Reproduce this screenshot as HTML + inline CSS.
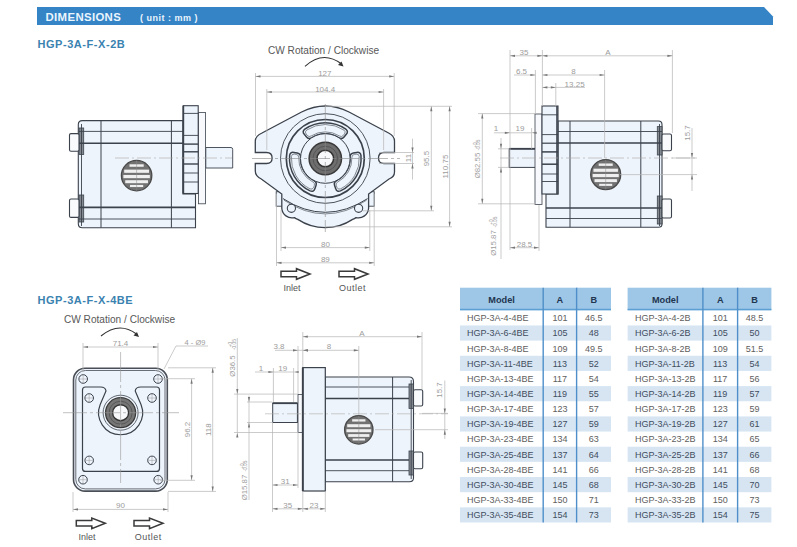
<!DOCTYPE html><html><head><meta charset="utf-8"><style>
html,body{margin:0;padding:0;background:#fff;width:797px;height:547px;overflow:hidden}
svg{display:block;font-family:"Liberation Sans",sans-serif}
</style></head><body>
<svg width="797" height="547" viewBox="0 0 797 547">
<polygon points="37,7 764,7 773,16.5 773,25 37,25" fill="#3584c6"/>
<text x="45.5" y="20.6" font-size="11.4" font-weight="bold" fill="#eaf5fd" letter-spacing="0.35">DIMENSIONS</text>
<text x="140" y="20.5" font-size="9" font-weight="bold" fill="#eaf5fd" letter-spacing="0.5">( unit : mm )</text>
<text x="37.5" y="47.7" font-size="11" font-weight="bold" fill="#3a82b0" letter-spacing="0.55">HGP-3A-F-X-2B</text>
<text x="37.5" y="304" font-size="11" font-weight="bold" fill="#3a82b0" letter-spacing="0.55">HGP-3A-F-X-4BE</text>
<path d="M205.8,147.5 L231,147.5 Q232.7,147.5 232.7,149.5 L232.7,168 L205.8,168 Z" fill="#eef4fb" stroke="#3b424c" stroke-width="0.9"/>
<rect x="198.5" y="112.5" width="7" height="91.3" rx="0" fill="#f7f9fc" stroke="#3b424c" stroke-width="0.8"/>
<path d="M78.3,124.6 Q78.3,120.6 82.3,120.6 L183,120.6 L183,194 L195.5,194 L195.5,227.7 L82.3,227.7 Q78.3,227.7 78.3,223.7 Z" fill="#eef4fb" stroke="#3b424c" stroke-width="1.1"/>
<rect x="183.3" y="105.7" width="14.9" height="87.8" rx="0" fill="#eef4fb" stroke="#3b424c" stroke-width="1.1"/>
<line x1="183.3" y1="105.7" x2="183.3" y2="193.5" stroke="#3b424c" stroke-width="1.8"/>
<line x1="183.3" y1="113.4" x2="198.2" y2="113.4" stroke="#3b424c" stroke-width="0.9"/>
<line x1="183.3" y1="135.4" x2="198.2" y2="135.4" stroke="#3b424c" stroke-width="0.9"/>
<line x1="183.3" y1="144.1" x2="198.2" y2="144.1" stroke="#3b424c" stroke-width="1.4"/>
<line x1="183.3" y1="151.8" x2="198.2" y2="151.8" stroke="#3b424c" stroke-width="1.4"/>
<line x1="183.3" y1="164" x2="198.2" y2="164" stroke="#3b424c" stroke-width="1.4"/>
<line x1="183.3" y1="173" x2="198.2" y2="173" stroke="#3b424c" stroke-width="0.9"/>
<line x1="183.3" y1="182" x2="198.2" y2="182" stroke="#3b424c" stroke-width="0.9"/>
<rect x="79" y="128" width="4.7" height="26.5" fill="#858a91" stroke="#3b424c" stroke-width="0.8"/>
<rect x="79" y="195" width="4.7" height="27" fill="#858a91" stroke="#3b424c" stroke-width="0.8"/>
<line x1="81.5" y1="124" x2="81.5" y2="226" stroke="#3b424c" stroke-width="0.9"/>
<line x1="101" y1="120.6" x2="101" y2="227.7" stroke="#3b424c" stroke-width="1"/>
<line x1="171.4" y1="120.6" x2="171.4" y2="227.7" stroke="#3b424c" stroke-width="1"/>
<line x1="79" y1="131.4" x2="183" y2="131.4" stroke="#3b424c" stroke-width="0.9"/>
<line x1="79" y1="143.2" x2="183" y2="143.2" stroke="#3b424c" stroke-width="1.6"/>
<line x1="79" y1="207.4" x2="195.5" y2="207.4" stroke="#3b424c" stroke-width="1.6"/>
<line x1="79" y1="219" x2="195.5" y2="219" stroke="#3b424c" stroke-width="0.9"/>
<rect x="69.5" y="133.6" width="9.5" height="17.6" rx="1.5" fill="#f9fafb" stroke="#3b424c" stroke-width="1.1"/>
<rect x="69.5" y="199" width="9.5" height="18.4" rx="1.5" fill="#f9fafb" stroke="#3b424c" stroke-width="1.1"/>
<line x1="115" y1="158" x2="232" y2="158" stroke="#aaa" stroke-width="0.6" stroke-dasharray="14,3,2,3"/>
<circle cx="136.6" cy="175.6" r="15.2" fill="#727272" stroke="#4a4a4a" stroke-width="1.3"/>
<rect x="129.49" y="164.31" width="14.22" height="2.46" fill="#efefef"/>
<rect x="124.19" y="169.61" width="24.82" height="3.21" fill="#efefef"/>
<rect x="123.36" y="174.96" width="26.49" height="3.21" fill="#efefef"/>
<rect x="125.25" y="180.20" width="22.71" height="3.00" fill="#efefef"/>
<rect x="129.99" y="184.91" width="13.21" height="2.14" fill="#efefef"/>
<line x1="136.6" y1="160.4" x2="136.6" y2="190.79999999999998" stroke="#8a8a8a" stroke-width="0.5"/>
<rect x="276.2" y="191.7" width="98" height="14.5" rx="0" fill="#eef4fb" stroke="#3b424c" stroke-width="0.9"/>
<path d="M262,133 L301.6,112 Q325.3,100 349,112 L388.6,133 Q394.5,136 394.5,141 L394.5,152.5 L384,152.5 Q378.5,152.5 378.5,158 Q378.5,163.5 384,163.5 L394.5,163.5 L394.5,172 Q394.5,177 389,179 L368.6,194
 L368.6,208.3 A10.2,10.2 0 0 1 356,217.6 Q354.6,218.6 352.6,219.4 A49.5,49.5 0 0 1 297.8,219.4 Q295.8,218.6 294.4,217.6 A10.2,10.2 0 0 1 281.8,208.3 L281.8,194 L261.3,179 Q255.3,176 255.3,171 L255.3,163.5 L266.6,163.5 Q272.1,163.5 272.1,158 Q272.1,152.5 266.6,152.5 L255.3,152.5 L255.3,141 Q255.3,136 262,133 Z" fill="#eef4fb" stroke="#3b424c" stroke-width="1.3"/>
<path d="M283,198.6 Q325.3,226 367.6,198.6" fill="none" stroke="#3b424c" stroke-width="1"/>
<path d="M284,200.2 Q325.3,227.6 366.6,200.2" fill="none" stroke="#3b424c" stroke-width="0.6"/>
<circle cx="291.4" cy="208.3" r="4.1" fill="#eef4fb" stroke="#3b424c" stroke-width="1.1"/>
<circle cx="358.6" cy="208.3" r="4.1" fill="#eef4fb" stroke="#3b424c" stroke-width="1.1"/>
<circle cx="325.3" cy="158.5" r="44.8" fill="#eef4fb" stroke="#3b424c" stroke-width="0.9"/>
<circle cx="325.3" cy="158.5" r="39" fill="#eef4fb" stroke="#3b424c" stroke-width="1.7"/>
<path d="M304.81,129.15 A35.8,35.8 0 0 1 345.79,129.15 Q348.79,131.48 346.29,134.35 L344.06,136.92 Q341.57,139.78 338.52,137.52 A24.8,24.8 0 0 0 312.08,137.52 Q309.03,139.78 306.54,136.92 L304.31,134.35 Q301.81,131.48 304.81,129.15 Z" fill="#eef4fb" stroke="#3b424c" stroke-width="1.5"/>
<path d="M306.64,130.08 A34,34 0 0 1 343.96,130.08 Q346.23,131.71 344.51,133.91 L343.40,135.33 Q341.68,137.54 339.38,135.93 A26.6,26.6 0 0 0 311.22,135.93 Q308.92,137.54 307.20,135.33 L306.09,133.91 Q304.37,131.71 306.64,130.08 Z" fill="none" stroke="#3b424c" stroke-width="0.6"/>
<path d="M360.97,155.43 A35.8,35.8 0 0 1 340.48,190.92 Q336.96,192.35 335.72,188.76 L334.61,185.54 Q333.37,181.95 336.86,180.44 A24.8,24.8 0 0 0 350.08,157.54 Q349.64,153.77 353.37,153.04 L356.71,152.39 Q360.44,151.67 360.97,155.43 Z" fill="#eef4fb" stroke="#3b424c" stroke-width="1.5"/>
<path d="M359.24,156.55 A34,34 0 0 1 340.59,188.87 Q338.04,190.02 336.99,187.43 L336.31,185.76 Q335.26,183.16 337.80,181.98 A26.6,26.6 0 0 0 351.88,157.59 Q351.64,154.80 354.41,154.41 L356.20,154.16 Q358.97,153.77 359.24,156.55 Z" fill="none" stroke="#3b424c" stroke-width="0.6"/>
<path d="M310.12,190.92 A35.8,35.8 0 0 1 289.63,155.43 Q290.16,151.67 293.89,152.39 L297.23,153.04 Q300.96,153.77 300.52,157.54 A24.8,24.8 0 0 0 313.74,180.44 Q317.23,181.95 315.99,185.54 L314.88,188.76 Q313.64,192.35 310.12,190.92 Z" fill="#eef4fb" stroke="#3b424c" stroke-width="1.5"/>
<path d="M310.01,188.87 A34,34 0 0 1 291.36,156.55 Q291.63,153.77 294.40,154.16 L296.19,154.41 Q298.96,154.80 298.72,157.59 A26.6,26.6 0 0 0 312.80,181.98 Q315.34,183.16 314.29,185.76 L313.61,187.43 Q312.56,190.02 310.01,188.87 Z" fill="none" stroke="#3b424c" stroke-width="0.6"/>
<circle cx="325.3" cy="158.5" r="24.8" fill="#eef4fb" stroke="#3b424c" stroke-width="1"/>
<circle cx="325.3" cy="158.5" r="16.2" fill="#6e6e6e" stroke="#3a3a3a" stroke-width="1.5"/>
<circle cx="325.3" cy="158.5" r="12.3" fill="none" stroke="#555" stroke-width="0.9"/>
<circle cx="325.3" cy="158.5" r="8.3" fill="#f8f9fb" stroke="#333" stroke-width="1.5"/>
<line x1="325.3" y1="104" x2="325.3" y2="232" stroke="#888" stroke-width="0.6" stroke-dasharray="20,3,3,3"/>
<line x1="252" y1="158.5" x2="400" y2="158.5" stroke="#888" stroke-width="0.6" stroke-dasharray="20,3,3,3"/>
<line x1="255.5" y1="73" x2="255.5" y2="136" stroke="#b4b4b4" stroke-width="0.7"/>
<line x1="394.2" y1="73" x2="394.2" y2="136" stroke="#b4b4b4" stroke-width="0.7"/>
<line x1="255.5" y1="76.4" x2="394.2" y2="76.4" stroke="#b4b4b4" stroke-width="0.7"/>
<path d="M255.5,76.4 l5,-1.1 l0,2.2 z" fill="#777"/>
<path d="M394.2,76.4 l-5,-1.1 l0,2.2 z" fill="#777"/>
<text x="324.85" y="76.2" font-size="8" fill="#9c9c9c" text-anchor="middle">127</text>
<line x1="266.8" y1="89" x2="266.8" y2="150" stroke="#b4b4b4" stroke-width="0.7"/>
<line x1="383.6" y1="89" x2="383.6" y2="150" stroke="#b4b4b4" stroke-width="0.7"/>
<line x1="266.8" y1="92" x2="383.6" y2="92" stroke="#b4b4b4" stroke-width="0.7"/>
<path d="M266.8,92 l5,-1.1 l0,2.2 z" fill="#777"/>
<path d="M383.6,92 l-5,-1.1 l0,2.2 z" fill="#777"/>
<text x="325.20000000000005" y="92.2" font-size="8" fill="#9c9c9c" text-anchor="middle">104.4</text>
<text x="268" y="54" font-size="10.1" fill="#585858">CW Rotation / Clockwise</text>
<path d="M305,66.4 Q323,50 341.5,64" fill="none" stroke="#333" stroke-width="1.1"/>
<path d="M343.5,66.5 l-5.5,-1.5 l3.5,-3.5 z" fill="#333"/>
<line x1="276.5" y1="194" x2="276.5" y2="266" stroke="#b4b4b4" stroke-width="0.7"/>
<line x1="374.2" y1="194" x2="374.2" y2="266" stroke="#b4b4b4" stroke-width="0.7"/>
<line x1="281" y1="210" x2="281" y2="251" stroke="#b4b4b4" stroke-width="0.7"/>
<line x1="369.8" y1="210" x2="369.8" y2="251" stroke="#b4b4b4" stroke-width="0.7"/>
<line x1="281" y1="247.6" x2="369.8" y2="247.6" stroke="#b4b4b4" stroke-width="0.7"/>
<path d="M281,247.6 l5,-1.1 l0,2.2 z" fill="#777"/>
<path d="M369.8,247.6 l-5,-1.1 l0,2.2 z" fill="#777"/>
<text x="325.4" y="246.7" font-size="8" fill="#9c9c9c" text-anchor="middle">80</text>
<line x1="276.5" y1="262.8" x2="374.2" y2="262.8" stroke="#b4b4b4" stroke-width="0.7"/>
<path d="M276.5,262.8 l5,-1.1 l0,2.2 z" fill="#777"/>
<path d="M374.2,262.8 l-5,-1.1 l0,2.2 z" fill="#777"/>
<text x="325.35" y="261.7" font-size="8" fill="#9c9c9c" text-anchor="middle">89</text>
<line x1="325" y1="106.3" x2="452" y2="106.3" stroke="#b4b4b4" stroke-width="0.7"/>
<line x1="363" y1="210.8" x2="434" y2="210.8" stroke="#b4b4b4" stroke-width="0.7"/>
<line x1="325" y1="226.8" x2="452" y2="226.8" stroke="#b4b4b4" stroke-width="0.7"/>
<line x1="431.3" y1="106.3" x2="431.3" y2="210.8" stroke="#b4b4b4" stroke-width="0.7"/>
<path d="M431.3,106.3 l-1.1,5 l2.2,0 z" fill="#777"/>
<path d="M431.3,210.8 l-1.1,-5 l2.2,0 z" fill="#777"/>
<text x="429.5" y="158.55" font-size="8" fill="#9c9c9c" text-anchor="middle" transform="rotate(-90 429.5 158.55)">95.5</text>
<line x1="449.6" y1="106.3" x2="449.6" y2="226.8" stroke="#b4b4b4" stroke-width="0.7"/>
<path d="M449.6,106.3 l-1.1,5 l2.2,0 z" fill="#777"/>
<path d="M449.6,226.8 l-1.1,-5 l2.2,0 z" fill="#777"/>
<text x="447.8" y="166.55" font-size="8" fill="#9c9c9c" text-anchor="middle" transform="rotate(-90 447.8 166.55)">110.75</text>
<line x1="379" y1="152.5" x2="414" y2="152.5" stroke="#b4b4b4" stroke-width="0.7"/>
<line x1="379" y1="163.5" x2="414" y2="163.5" stroke="#b4b4b4" stroke-width="0.7"/>
<line x1="412.5" y1="138.7" x2="412.5" y2="179.6" stroke="#b4b4b4" stroke-width="0.7"/>
<path d="M412.5,152.5 l-1.1,-5 l2.2,0 z" fill="#777"/>
<path d="M412.5,163.5 l-1.1,5 l2.2,0 z" fill="#777"/>
<text x="410.5" y="158" font-size="8" fill="#9c9c9c" text-anchor="middle" transform="rotate(-90 410.5 158)">11</text>
<path d="M281,271.2 L296.5,271.2 L296.5,268.7 L310,274 L296.5,279.3 L296.5,276.8 L281,276.8 Z" fill="#fff" stroke="#3a3a3a" stroke-width="1.5" stroke-linejoin="miter"/>
<path d="M339,271.2 L354.5,271.2 L354.5,268.7 L368,274 L354.5,279.3 L354.5,276.8 L339,276.8 Z" fill="#fff" stroke="#3a3a3a" stroke-width="1.5" stroke-linejoin="miter"/>
<text x="283.5" y="290.5" font-size="9" fill="#555">Inlet</text>
<text x="339" y="290.5" font-size="9" fill="#555" letter-spacing="0.5">Outlet</text>
<rect x="509.2" y="148.8" width="27" height="18.6" rx="0" fill="#eef4fb" stroke="#3b424c" stroke-width="1"/>
<line x1="509.2" y1="148.8" x2="536" y2="148.8" stroke="#3b424c" stroke-width="1.8"/>
<rect x="535" y="114" width="7" height="90.5" rx="0" fill="#f7f9fc" stroke="#3b424c" stroke-width="0.8"/>
<path d="M662,124.5 Q662,121 658.5,121 L558,121 L558,194 L546,194 L546,227.3 L658.5,227.3 Q662,227.3 662,224 Z" fill="#eef4fb" stroke="#3b424c" stroke-width="1.1"/>
<rect x="542" y="106" width="16" height="88" rx="0" fill="#eef4fb" stroke="#3b424c" stroke-width="1.1"/>
<line x1="542" y1="114.8" x2="558" y2="114.8" stroke="#3b424c" stroke-width="0.9"/>
<line x1="542" y1="134.6" x2="558" y2="134.6" stroke="#3b424c" stroke-width="0.9"/>
<line x1="542" y1="143.2" x2="558" y2="143.2" stroke="#3b424c" stroke-width="1.2"/>
<line x1="542" y1="151.9" x2="558" y2="151.9" stroke="#3b424c" stroke-width="1.5"/>
<line x1="542" y1="164.2" x2="558" y2="164.2" stroke="#3b424c" stroke-width="1.5"/>
<line x1="542" y1="174" x2="558" y2="174" stroke="#3b424c" stroke-width="0.9"/>
<line x1="542" y1="181.5" x2="558" y2="181.5" stroke="#3b424c" stroke-width="0.9"/>
<line x1="557" y1="106" x2="557" y2="194" stroke="#3b424c" stroke-width="1.6"/>
<rect x="657.3" y="126.6" width="4.7" height="28.4" fill="#858a91" stroke="#3b424c" stroke-width="0.8"/>
<rect x="657.3" y="196" width="4.7" height="28" fill="#858a91" stroke="#3b424c" stroke-width="0.8"/>
<line x1="659.5" y1="124" x2="659.5" y2="226" stroke="#3b424c" stroke-width="0.9"/>
<line x1="570" y1="121" x2="570" y2="227.3" stroke="#3b424c" stroke-width="1"/>
<line x1="640.8" y1="121" x2="640.8" y2="227.3" stroke="#3b424c" stroke-width="1"/>
<line x1="558" y1="131.5" x2="662" y2="131.5" stroke="#3b424c" stroke-width="0.9"/>
<line x1="558" y1="143" x2="662" y2="143" stroke="#3b424c" stroke-width="1.6"/>
<line x1="546" y1="208" x2="662" y2="208" stroke="#3b424c" stroke-width="1.6"/>
<line x1="546" y1="218.5" x2="662" y2="218.5" stroke="#3b424c" stroke-width="0.9"/>
<rect x="662" y="134" width="9.5" height="16.7" rx="1.5" fill="#f9fafb" stroke="#3b424c" stroke-width="1.1"/>
<rect x="662" y="199" width="9.5" height="19" rx="1.5" fill="#f9fafb" stroke="#3b424c" stroke-width="1.1"/>
<line x1="500" y1="158" x2="697" y2="158" stroke="#aaa" stroke-width="0.6" stroke-dasharray="14,3,2,3"/>
<circle cx="605.7" cy="174.6" r="15" fill="#727272" stroke="#4a4a4a" stroke-width="1.3"/>
<rect x="598.68" y="163.46" width="14.04" height="2.43" fill="#efefef"/>
<rect x="593.45" y="168.68" width="24.50" height="3.17" fill="#efefef"/>
<rect x="592.63" y="173.97" width="26.14" height="3.17" fill="#efefef"/>
<rect x="594.50" y="179.14" width="22.41" height="2.96" fill="#efefef"/>
<rect x="599.18" y="183.79" width="13.04" height="2.11" fill="#efefef"/>
<line x1="605.7" y1="159.6" x2="605.7" y2="189.6" stroke="#8a8a8a" stroke-width="0.5"/>
<line x1="510" y1="50" x2="510" y2="250" stroke="#b4b4b4" stroke-width="0.7"/>
<line x1="542.4" y1="50" x2="542.4" y2="106" stroke="#b4b4b4" stroke-width="0.7"/>
<line x1="672.4" y1="50" x2="672.4" y2="133" stroke="#b4b4b4" stroke-width="0.7"/>
<line x1="510" y1="55.8" x2="542.4" y2="55.8" stroke="#b4b4b4" stroke-width="0.7"/>
<path d="M510,55.8 l5,-1.1 l0,2.2 z" fill="#777"/>
<path d="M542.4,55.8 l-5,-1.1 l0,2.2 z" fill="#777"/>
<text x="524" y="54.7" font-size="8" fill="#9c9c9c" text-anchor="middle">35</text>
<line x1="542.4" y1="55.8" x2="672.4" y2="55.8" stroke="#b4b4b4" stroke-width="0.7"/>
<path d="M542.4,55.8 l5,-1.1 l0,2.2 z" fill="#777"/>
<path d="M672.4,55.8 l-5,-1.1 l0,2.2 z" fill="#777"/>
<text x="608" y="54.7" font-size="8" fill="#9c9c9c" text-anchor="middle">A</text>
<line x1="535.4" y1="70" x2="535.4" y2="114" stroke="#b4b4b4" stroke-width="0.7"/>
<line x1="604.6" y1="70" x2="604.6" y2="158" stroke="#b4b4b4" stroke-width="0.7"/>
<line x1="514" y1="75" x2="535.4" y2="75" stroke="#b4b4b4" stroke-width="0.7"/>
<path d="M535.4,75 l-5,-1.1 l0,2.2 z" fill="#777"/>
<text x="521.5" y="74.2" font-size="8" fill="#9c9c9c" text-anchor="middle">6.5</text>
<line x1="542.4" y1="75" x2="604.6" y2="75" stroke="#b4b4b4" stroke-width="0.7"/>
<path d="M542.4,75 l5,-1.1 l0,2.2 z" fill="#777"/>
<path d="M604.6,75 l-5,-1.1 l0,2.2 z" fill="#777"/>
<text x="573.5" y="74.2" font-size="8" fill="#9c9c9c" text-anchor="middle">8</text>
<line x1="555.8" y1="83" x2="555.8" y2="106" stroke="#b4b4b4" stroke-width="0.7"/>
<line x1="542.4" y1="87.4" x2="585" y2="87.4" stroke="#b4b4b4" stroke-width="0.7"/>
<path d="M542.4,87.4 l5,-1.1 l0,2.2 z" fill="#777"/>
<path d="M555.8,87.4 l-5,-1.1 l0,2.2 z" fill="#777"/>
<text x="574.6" y="86.7" font-size="8" fill="#9c9c9c" text-anchor="middle">13.25</text>
<line x1="494" y1="132.8" x2="531.6" y2="132.8" stroke="#b4b4b4" stroke-width="0.7"/>
<path d="M509.8,132.8 l-5,-1.1 l0,2.2 z" fill="#777"/>
<path d="M531.6,132.8 l5,-1.1 l0,2.2 z" fill="#777"/>
<line x1="531.6" y1="128" x2="531.6" y2="148.8" stroke="#b4b4b4" stroke-width="0.7"/>
<text x="520" y="131.2" font-size="8" fill="#9c9c9c" text-anchor="middle">19</text>
<text x="496" y="131.2" font-size="8" fill="#9c9c9c" text-anchor="middle">1</text>
<line x1="478" y1="113.6" x2="536" y2="113.6" stroke="#b4b4b4" stroke-width="0.7"/>
<line x1="478" y1="203.8" x2="536" y2="203.8" stroke="#b4b4b4" stroke-width="0.7"/>
<line x1="482.3" y1="113.6" x2="482.3" y2="203.8" stroke="#b4b4b4" stroke-width="0.7"/>
<path d="M482.3,113.6 l-1.1,5 l2.2,0 z" fill="#777"/>
<path d="M482.3,203.8 l-1.1,-5 l2.2,0 z" fill="#777"/>
<text x="479.8" y="165.5" font-size="7.8" fill="#9c9c9c" text-anchor="middle" transform="rotate(-90 479.8 165.5)">Ø82.55</text>
<text x="476.8" y="145" font-size="4.8" fill="#9c9c9c" text-anchor="middle" transform="rotate(-90 476.8 145)">+0</text>
<text x="480.4" y="145" font-size="4.8" fill="#9c9c9c" text-anchor="middle" transform="rotate(-90 480.4 145)">-0.05</text>
<line x1="501" y1="138" x2="501" y2="259" stroke="#b4b4b4" stroke-width="0.7"/>
<line x1="498" y1="148.8" x2="509" y2="148.8" stroke="#b4b4b4" stroke-width="0.7"/>
<line x1="498" y1="167.4" x2="509" y2="167.4" stroke="#b4b4b4" stroke-width="0.7"/>
<path d="M501,148.8 l-1.1,-5 l2.2,0 z" fill="#777"/>
<path d="M501,167.4 l-1.1,5 l2.2,0 z" fill="#777"/>
<text x="496" y="243" font-size="7.8" fill="#9c9c9c" text-anchor="middle" transform="rotate(-90 496 243)">Ø15.87</text>
<text x="493" y="222" font-size="4.8" fill="#9c9c9c" text-anchor="middle" transform="rotate(-90 493 222)">+0</text>
<text x="496.6" y="222" font-size="4.8" fill="#9c9c9c" text-anchor="middle" transform="rotate(-90 496.6 222)">-0.05</text>
<line x1="539" y1="205" x2="539" y2="251" stroke="#b4b4b4" stroke-width="0.7"/>
<line x1="510" y1="247.7" x2="539" y2="247.7" stroke="#b4b4b4" stroke-width="0.7"/>
<path d="M510,247.7 l5,-1.1 l0,2.2 z" fill="#777"/>
<path d="M539,247.7 l-5,-1.1 l0,2.2 z" fill="#777"/>
<text x="524.5" y="246.7" font-size="8" fill="#9c9c9c" text-anchor="middle">28.5</text>
<line x1="672" y1="158" x2="697" y2="158" stroke="#b4b4b4" stroke-width="0.7"/>
<line x1="620" y1="174.6" x2="697" y2="174.6" stroke="#b4b4b4" stroke-width="0.7"/>
<line x1="692" y1="128" x2="692" y2="191" stroke="#b4b4b4" stroke-width="0.7"/>
<path d="M692,158 l-1.1,-5 l2.2,0 z" fill="#777"/>
<path d="M692,174.6 l-1.1,5 l2.2,0 z" fill="#777"/>
<text x="689.5" y="133" font-size="8" fill="#9c9c9c" text-anchor="middle" transform="rotate(-90 689.5 133)">15.7</text>
<text x="64" y="322.5" font-size="10.1" fill="#585858">CW Rotation / Clockwise</text>
<path d="M101,336 Q119,321 136.5,334" fill="none" stroke="#333" stroke-width="1.1"/>
<path d="M139,337 l-5.5,-1.5 l3.5,-3.5 z" fill="#333"/>
<rect x="73.5" y="368.3" width="93.8" height="122.8" rx="11.5" fill="#eef4fb" stroke="#4a4f57" stroke-width="1.6"/>
<rect x="75.8" y="370.5" width="89.2" height="118.4" rx="9.5" fill="none" stroke="#5a5f66" stroke-width="0.9"/>
<path d="M82.5,390 Q82.5,387 85.5,387 L100.5,387 Q105.5,387 106,391 L100.2,404.5 A22,22 0 1 0 141.0,404.5 L135.2,391 Q135.7,387 140.7,387 L156.5,387 Q159.5,387 159.5,390 L159.5,468.4 Q159.5,471.4 156.5,471.4 L85.5,471.4 Q82.5,471.4 82.5,468.4 Z" fill="#eef4fb" stroke="#3b424c" stroke-width="1.2"/>
<circle cx="83.2" cy="379" r="4.3" fill="#eef4fb" stroke="#3b424c" stroke-width="1"/>
<line x1="79.2" y1="379" x2="87.2" y2="379" stroke="#999" stroke-width="0.5"/>
<line x1="83.2" y1="375" x2="83.2" y2="383" stroke="#999" stroke-width="0.5"/>
<circle cx="158" cy="379" r="4.3" fill="#eef4fb" stroke="#3b424c" stroke-width="1"/>
<line x1="154" y1="379" x2="162" y2="379" stroke="#999" stroke-width="0.5"/>
<line x1="158" y1="375" x2="158" y2="383" stroke="#999" stroke-width="0.5"/>
<circle cx="83" cy="479.7" r="4.3" fill="#eef4fb" stroke="#3b424c" stroke-width="1"/>
<line x1="79" y1="479.7" x2="87" y2="479.7" stroke="#999" stroke-width="0.5"/>
<line x1="83" y1="475.7" x2="83" y2="483.7" stroke="#999" stroke-width="0.5"/>
<circle cx="158.2" cy="479.7" r="4.3" fill="#eef4fb" stroke="#3b424c" stroke-width="1"/>
<line x1="154.2" y1="479.7" x2="162.2" y2="479.7" stroke="#999" stroke-width="0.5"/>
<line x1="158.2" y1="475.7" x2="158.2" y2="483.7" stroke="#999" stroke-width="0.5"/>
<circle cx="89.2" cy="398" r="4.3" fill="#eef4fb" stroke="#3b424c" stroke-width="1"/>
<line x1="85.2" y1="398" x2="93.2" y2="398" stroke="#999" stroke-width="0.5"/>
<line x1="89.2" y1="394" x2="89.2" y2="402" stroke="#999" stroke-width="0.5"/>
<circle cx="152" cy="398" r="4.3" fill="#eef4fb" stroke="#3b424c" stroke-width="1"/>
<line x1="148" y1="398" x2="156" y2="398" stroke="#999" stroke-width="0.5"/>
<line x1="152" y1="394" x2="152" y2="402" stroke="#999" stroke-width="0.5"/>
<circle cx="89.2" cy="460.4" r="4.3" fill="#eef4fb" stroke="#3b424c" stroke-width="1"/>
<line x1="85.2" y1="460.4" x2="93.2" y2="460.4" stroke="#999" stroke-width="0.5"/>
<line x1="89.2" y1="456.4" x2="89.2" y2="464.4" stroke="#999" stroke-width="0.5"/>
<circle cx="152" cy="460.4" r="4.3" fill="#eef4fb" stroke="#3b424c" stroke-width="1"/>
<line x1="148" y1="460.4" x2="156" y2="460.4" stroke="#999" stroke-width="0.5"/>
<line x1="152" y1="456.4" x2="152" y2="464.4" stroke="#999" stroke-width="0.5"/>
<circle cx="120.6" cy="412.7" r="17.5" fill="#eef4fb" stroke="#3b424c" stroke-width="0.8"/>
<circle cx="120.6" cy="412.7" r="15" fill="#767676" stroke="#3a3a3a" stroke-width="1.3"/>
<circle cx="120.6" cy="412.7" r="11.5" fill="none" stroke="#555" stroke-width="0.9"/>
<circle cx="120.6" cy="412.7" r="8" fill="#f8f9fb" stroke="#333" stroke-width="1.4"/>
<line x1="63" y1="412.7" x2="179" y2="412.7" stroke="#999" stroke-width="0.6" stroke-dasharray="24,3,3,3"/>
<line x1="120.6" y1="352" x2="120.6" y2="483" stroke="#999" stroke-width="0.6" stroke-dasharray="30,3,3,3"/>
<line x1="83" y1="343" x2="83" y2="372" stroke="#b4b4b4" stroke-width="0.7"/>
<line x1="158" y1="343" x2="158" y2="372" stroke="#b4b4b4" stroke-width="0.7"/>
<line x1="83" y1="347" x2="158" y2="347" stroke="#b4b4b4" stroke-width="0.7"/>
<path d="M83,347 l5,-1.1 l0,2.2 z" fill="#777"/>
<path d="M158,347 l-5,-1.1 l0,2.2 z" fill="#777"/>
<text x="120.5" y="346.2" font-size="8" fill="#9c9c9c" text-anchor="middle">71.4</text>
<polyline points="164,369 176,346 208,346" fill="none" stroke="#b4b4b4" stroke-width="0.7"/>
<text x="195" y="345.2" font-size="7.5" fill="#9c9c9c" text-anchor="middle">4 - Ø9</text>
<line x1="160" y1="378.7" x2="195" y2="378.7" stroke="#b4b4b4" stroke-width="0.7"/>
<line x1="160" y1="480.3" x2="195" y2="480.3" stroke="#b4b4b4" stroke-width="0.7"/>
<line x1="191.6" y1="378.7" x2="191.6" y2="480.3" stroke="#b4b4b4" stroke-width="0.7"/>
<path d="M191.6,378.7 l-1.1,5 l2.2,0 z" fill="#777"/>
<path d="M191.6,480.3 l-1.1,-5 l2.2,0 z" fill="#777"/>
<text x="189.6" y="429.5" font-size="8" fill="#9c9c9c" text-anchor="middle" transform="rotate(-90 189.6 429.5)">96.2</text>
<line x1="168" y1="367.8" x2="216" y2="367.8" stroke="#b4b4b4" stroke-width="0.7"/>
<line x1="168" y1="491.4" x2="216" y2="491.4" stroke="#b4b4b4" stroke-width="0.7"/>
<line x1="212.7" y1="367.8" x2="212.7" y2="491.4" stroke="#b4b4b4" stroke-width="0.7"/>
<path d="M212.7,367.8 l-1.1,5 l2.2,0 z" fill="#777"/>
<path d="M212.7,491.4 l-1.1,-5 l2.2,0 z" fill="#777"/>
<text x="210.7" y="429.6" font-size="8" fill="#9c9c9c" text-anchor="middle" transform="rotate(-90 210.7 429.6)">118</text>
<line x1="73" y1="492" x2="73" y2="512" stroke="#b4b4b4" stroke-width="0.7"/>
<line x1="168" y1="492" x2="168" y2="512" stroke="#b4b4b4" stroke-width="0.7"/>
<line x1="73" y1="509.4" x2="168" y2="509.4" stroke="#b4b4b4" stroke-width="0.7"/>
<path d="M73,509.4 l5,-1.1 l0,2.2 z" fill="#777"/>
<path d="M168,509.4 l-5,-1.1 l0,2.2 z" fill="#777"/>
<text x="120.5" y="508.2" font-size="8" fill="#9c9c9c" text-anchor="middle">90</text>
<path d="M76.3,520.5 L91.8,520.5 L91.8,518.0 L105.3,523.3 L91.8,528.5999999999999 L91.8,526.0999999999999 L76.3,526.0999999999999 Z" fill="#fff" stroke="#3a3a3a" stroke-width="1.5" stroke-linejoin="miter"/>
<path d="M134,520.5 L149.5,520.5 L149.5,518.0 L163,523.3 L149.5,528.5999999999999 L149.5,526.0999999999999 L134,526.0999999999999 Z" fill="#fff" stroke="#3a3a3a" stroke-width="1.5" stroke-linejoin="miter"/>
<text x="78.6" y="539.5" font-size="9" fill="#555">Inlet</text>
<text x="134.7" y="539.5" font-size="9" fill="#555" letter-spacing="0.5">Outlet</text>
<rect x="272.7" y="403.2" width="24.7" height="19.3" rx="0" fill="#eef4fb" stroke="#3b424c" stroke-width="1"/>
<line x1="272.7" y1="403.2" x2="297.4" y2="403.2" stroke="#3b424c" stroke-width="1.8"/>
<rect x="298" y="394.5" width="5" height="38" rx="0" fill="#f7f9fc" stroke="#3b424c" stroke-width="0.8"/>
<path d="M409,377 Q413.5,377 413.5,381.5 L413.5,478 Q413.5,481.7 409.5,481.7 L325.3,481.7 L325.3,377 Z" fill="#eef4fb" stroke="#3b424c" stroke-width="1.1"/>
<rect x="302.8" y="367.6" width="22.5" height="123.4" rx="0" fill="#eef4fb" stroke="#3b424c" stroke-width="1.2"/>
<line x1="302.8" y1="367.6" x2="302.8" y2="491" stroke="#3b424c" stroke-width="1.9"/>
<rect x="409" y="384" width="4.5" height="24.4" fill="#858a91" stroke="#3b424c" stroke-width="0.8"/>
<rect x="409" y="451" width="4.5" height="24" fill="#858a91" stroke="#3b424c" stroke-width="0.8"/>
<line x1="411.2" y1="380" x2="411.2" y2="479" stroke="#3b424c" stroke-width="0.9"/>
<line x1="392.6" y1="377" x2="392.6" y2="481.7" stroke="#3b424c" stroke-width="1"/>
<line x1="325.3" y1="387" x2="409" y2="387" stroke="#3b424c" stroke-width="0.9"/>
<line x1="325.3" y1="398.5" x2="409" y2="398.5" stroke="#3b424c" stroke-width="1.6"/>
<line x1="325.3" y1="460" x2="409" y2="460" stroke="#3b424c" stroke-width="1.6"/>
<line x1="325.3" y1="470.7" x2="409" y2="470.7" stroke="#3b424c" stroke-width="0.9"/>
<rect x="413.5" y="389.7" width="9.2" height="16.3" rx="1.5" fill="#f9fafb" stroke="#3b424c" stroke-width="1.1"/>
<rect x="413.5" y="452" width="9.2" height="16.7" rx="1.5" fill="#f9fafb" stroke="#3b424c" stroke-width="1.1"/>
<line x1="265" y1="413.8" x2="448" y2="413.8" stroke="#aaa" stroke-width="0.6" stroke-dasharray="14,3,2,3"/>
<circle cx="358.8" cy="429.8" r="14.2" fill="#727272" stroke="#4a4a4a" stroke-width="1.3"/>
<rect x="352.16" y="419.25" width="13.29" height="2.30" fill="#efefef"/>
<rect x="347.20" y="424.20" width="23.19" height="3.00" fill="#efefef"/>
<rect x="346.43" y="429.20" width="24.74" height="3.00" fill="#efefef"/>
<rect x="348.19" y="434.10" width="21.21" height="2.80" fill="#efefef"/>
<rect x="352.63" y="438.50" width="12.34" height="2.00" fill="#efefef"/>
<line x1="358.8" y1="415.6" x2="358.8" y2="444.0" stroke="#8a8a8a" stroke-width="0.5"/>
<line x1="302.8" y1="332" x2="302.8" y2="367" stroke="#b4b4b4" stroke-width="0.7"/>
<line x1="422" y1="332" x2="422" y2="389" stroke="#b4b4b4" stroke-width="0.7"/>
<line x1="302.8" y1="336.7" x2="422" y2="336.7" stroke="#b4b4b4" stroke-width="0.7"/>
<path d="M302.8,336.7 l5,-1.1 l0,2.2 z" fill="#777"/>
<path d="M422,336.7 l-5,-1.1 l0,2.2 z" fill="#777"/>
<text x="362" y="335.7" font-size="8" fill="#9c9c9c" text-anchor="middle">A</text>
<line x1="275" y1="350.3" x2="303" y2="350.3" stroke="#b4b4b4" stroke-width="0.7"/>
<path d="M298,350.3 l-5,-1.1 l0,2.2 z" fill="#777"/>
<path d="M303,350.3 l5,-1.1 l0,2.2 z" fill="#777"/>
<text x="279" y="349.2" font-size="8" fill="#9c9c9c" text-anchor="middle">3.8</text>
<line x1="303" y1="350.3" x2="358.8" y2="350.3" stroke="#b4b4b4" stroke-width="0.7"/>
<path d="M303,350.3 l5,-1.1 l0,2.2 z" fill="#777"/>
<path d="M358.8,350.3 l-5,-1.1 l0,2.2 z" fill="#777"/>
<text x="329" y="349.2" font-size="8" fill="#9c9c9c" text-anchor="middle">8</text>
<line x1="298" y1="346" x2="298" y2="394" stroke="#b4b4b4" stroke-width="0.7"/>
<line x1="358.8" y1="346" x2="358.8" y2="415" stroke="#b4b4b4" stroke-width="0.7"/>
<line x1="255" y1="372" x2="293.6" y2="372" stroke="#b4b4b4" stroke-width="0.7"/>
<path d="M273.4,372 l-5,-1.1 l0,2.2 z" fill="#777"/>
<path d="M293.6,372 l5,-1.1 l0,2.2 z" fill="#777"/>
<line x1="273.4" y1="368" x2="273.4" y2="402" stroke="#b4b4b4" stroke-width="0.7"/>
<line x1="293.6" y1="368" x2="293.6" y2="402" stroke="#b4b4b4" stroke-width="0.7"/>
<text x="282.8" y="370.7" font-size="8" fill="#9c9c9c" text-anchor="middle">19</text>
<text x="261" y="370.7" font-size="8" fill="#9c9c9c" text-anchor="middle">1</text>
<line x1="234" y1="394.1" x2="297.4" y2="394.1" stroke="#b4b4b4" stroke-width="0.7"/>
<line x1="234" y1="432.5" x2="297.4" y2="432.5" stroke="#b4b4b4" stroke-width="0.7"/>
<line x1="237.3" y1="338" x2="237.3" y2="432.5" stroke="#b4b4b4" stroke-width="0.7"/>
<path d="M237.3,394.1 l-1.1,-5 l2.2,0 z" fill="#777"/>
<path d="M237.3,432.5 l-1.1,5 l2.2,0 z" fill="#777"/>
<text x="235" y="366" font-size="7.8" fill="#9c9c9c" text-anchor="middle" transform="rotate(-90 235 366)">Ø36.5</text>
<text x="232" y="344.5" font-size="4.8" fill="#9c9c9c" text-anchor="middle" transform="rotate(-90 232 344.5)">+0</text>
<text x="235.6" y="344.5" font-size="4.8" fill="#9c9c9c" text-anchor="middle" transform="rotate(-90 235.6 344.5)">-0.05</text>
<line x1="247" y1="402" x2="272" y2="402" stroke="#b4b4b4" stroke-width="0.7"/>
<line x1="247" y1="422.5" x2="272" y2="422.5" stroke="#b4b4b4" stroke-width="0.7"/>
<line x1="249" y1="395.6" x2="249" y2="500" stroke="#b4b4b4" stroke-width="0.7"/>
<path d="M249,402 l-1.1,-5 l2.2,0 z" fill="#777"/>
<path d="M249,422.5 l-1.1,5 l2.2,0 z" fill="#777"/>
<text x="246.5" y="487.5" font-size="7.8" fill="#9c9c9c" text-anchor="middle" transform="rotate(-90 246.5 487.5)">Ø15.87</text>
<text x="243.5" y="466" font-size="4.8" fill="#9c9c9c" text-anchor="middle" transform="rotate(-90 243.5 466)">+0</text>
<text x="247.1" y="466" font-size="4.8" fill="#9c9c9c" text-anchor="middle" transform="rotate(-90 247.1 466)">-0.05</text>
<line x1="422" y1="413.4" x2="448" y2="413.4" stroke="#b4b4b4" stroke-width="0.7"/>
<line x1="375" y1="429.7" x2="448" y2="429.7" stroke="#b4b4b4" stroke-width="0.7"/>
<line x1="444.8" y1="380.5" x2="444.8" y2="439" stroke="#b4b4b4" stroke-width="0.7"/>
<path d="M444.8,413.4 l-1.1,-5 l2.2,0 z" fill="#777"/>
<path d="M444.8,429.7 l-1.1,5 l2.2,0 z" fill="#777"/>
<text x="442" y="390" font-size="8" fill="#9c9c9c" text-anchor="middle" transform="rotate(-90 442 390)">15.7</text>
<line x1="272.5" y1="422" x2="272.5" y2="512" stroke="#b4b4b4" stroke-width="0.7"/>
<line x1="302.8" y1="491" x2="302.8" y2="512" stroke="#b4b4b4" stroke-width="0.7"/>
<line x1="325.3" y1="491" x2="325.3" y2="512" stroke="#b4b4b4" stroke-width="0.7"/>
<line x1="298" y1="432" x2="298" y2="488" stroke="#b4b4b4" stroke-width="0.7"/>
<line x1="272.5" y1="485" x2="298" y2="485" stroke="#b4b4b4" stroke-width="0.7"/>
<path d="M272.5,485 l5,-1.1 l0,2.2 z" fill="#777"/>
<path d="M298,485 l-5,-1.1 l0,2.2 z" fill="#777"/>
<text x="285.25" y="484.2" font-size="8" fill="#9c9c9c" text-anchor="middle">31</text>
<line x1="272.5" y1="508.8" x2="302.8" y2="508.8" stroke="#b4b4b4" stroke-width="0.7"/>
<path d="M272.5,508.8 l5,-1.1 l0,2.2 z" fill="#777"/>
<path d="M302.8,508.8 l-5,-1.1 l0,2.2 z" fill="#777"/>
<text x="287.65" y="507.7" font-size="8" fill="#9c9c9c" text-anchor="middle">35</text>
<line x1="302.8" y1="508.8" x2="325.3" y2="508.8" stroke="#b4b4b4" stroke-width="0.7"/>
<path d="M302.8,508.8 l5,-1.1 l0,2.2 z" fill="#777"/>
<path d="M325.3,508.8 l-5,-1.1 l0,2.2 z" fill="#777"/>
<text x="314.05" y="507.7" font-size="8" fill="#9c9c9c" text-anchor="middle">23</text>
<rect x="460" y="287.7" width="151" height="22.600000000000023" fill="#9ec7e7"/>
<line x1="460" y1="309.6" x2="611" y2="309.6" stroke="#5c9fd2" stroke-width="1.5"/>
<rect x="460" y="325.45714285714286" width="151" height="15.157142857142857" fill="#d7e5f3"/>
<rect x="460" y="355.7714285714286" width="151" height="15.157142857142857" fill="#d7e5f3"/>
<rect x="460" y="386.0857142857143" width="151" height="15.157142857142857" fill="#d7e5f3"/>
<rect x="460" y="416.4" width="151" height="15.157142857142857" fill="#d7e5f3"/>
<rect x="460" y="446.7142857142857" width="151" height="15.157142857142857" fill="#d7e5f3"/>
<rect x="460" y="477.02857142857147" width="151" height="15.157142857142857" fill="#d7e5f3"/>
<rect x="460" y="507.34285714285716" width="151" height="15.157142857142857" fill="#d7e5f3"/>
<text x="467" y="321.2" font-size="9" fill="#5e5e5e">HGP-3A-4-4BE</text>
<text x="559.9" y="321.2" font-size="9" fill="#5e5e5e" text-anchor="middle">101</text>
<text x="593.8" y="321.2" font-size="9" fill="#5e5e5e" text-anchor="middle">46.5</text>
<text x="467" y="336.3" font-size="9" fill="#3f4d5e">HGP-3A-6-4BE</text>
<text x="559.9" y="336.3" font-size="9" fill="#3f4d5e" text-anchor="middle">105</text>
<text x="593.8" y="336.3" font-size="9" fill="#3f4d5e" text-anchor="middle">48</text>
<text x="467" y="351.5" font-size="9" fill="#5e5e5e">HGP-3A-8-4BE</text>
<text x="559.9" y="351.5" font-size="9" fill="#5e5e5e" text-anchor="middle">109</text>
<text x="593.8" y="351.5" font-size="9" fill="#5e5e5e" text-anchor="middle">49.5</text>
<text x="467" y="366.7" font-size="9" fill="#3f4d5e">HGP-3A-11-4BE</text>
<text x="559.9" y="366.7" font-size="9" fill="#3f4d5e" text-anchor="middle">113</text>
<text x="593.8" y="366.7" font-size="9" fill="#3f4d5e" text-anchor="middle">52</text>
<text x="467" y="381.8" font-size="9" fill="#5e5e5e">HGP-3A-13-4BE</text>
<text x="559.9" y="381.8" font-size="9" fill="#5e5e5e" text-anchor="middle">117</text>
<text x="593.8" y="381.8" font-size="9" fill="#5e5e5e" text-anchor="middle">54</text>
<text x="467" y="397.0" font-size="9" fill="#3f4d5e">HGP-3A-14-4BE</text>
<text x="559.9" y="397.0" font-size="9" fill="#3f4d5e" text-anchor="middle">119</text>
<text x="593.8" y="397.0" font-size="9" fill="#3f4d5e" text-anchor="middle">55</text>
<text x="467" y="412.1" font-size="9" fill="#5e5e5e">HGP-3A-17-4BE</text>
<text x="559.9" y="412.1" font-size="9" fill="#5e5e5e" text-anchor="middle">123</text>
<text x="593.8" y="412.1" font-size="9" fill="#5e5e5e" text-anchor="middle">57</text>
<text x="467" y="427.3" font-size="9" fill="#3f4d5e">HGP-3A-19-4BE</text>
<text x="559.9" y="427.3" font-size="9" fill="#3f4d5e" text-anchor="middle">127</text>
<text x="593.8" y="427.3" font-size="9" fill="#3f4d5e" text-anchor="middle">59</text>
<text x="467" y="442.4" font-size="9" fill="#5e5e5e">HGP-3A-23-4BE</text>
<text x="559.9" y="442.4" font-size="9" fill="#5e5e5e" text-anchor="middle">134</text>
<text x="593.8" y="442.4" font-size="9" fill="#5e5e5e" text-anchor="middle">63</text>
<text x="467" y="457.6" font-size="9" fill="#3f4d5e">HGP-3A-25-4BE</text>
<text x="559.9" y="457.6" font-size="9" fill="#3f4d5e" text-anchor="middle">137</text>
<text x="593.8" y="457.6" font-size="9" fill="#3f4d5e" text-anchor="middle">64</text>
<text x="467" y="472.8" font-size="9" fill="#5e5e5e">HGP-3A-28-4BE</text>
<text x="559.9" y="472.8" font-size="9" fill="#5e5e5e" text-anchor="middle">141</text>
<text x="593.8" y="472.8" font-size="9" fill="#5e5e5e" text-anchor="middle">66</text>
<text x="467" y="487.9" font-size="9" fill="#3f4d5e">HGP-3A-30-4BE</text>
<text x="559.9" y="487.9" font-size="9" fill="#3f4d5e" text-anchor="middle">145</text>
<text x="593.8" y="487.9" font-size="9" fill="#3f4d5e" text-anchor="middle">68</text>
<text x="467" y="503.1" font-size="9" fill="#5e5e5e">HGP-3A-33-4BE</text>
<text x="559.9" y="503.1" font-size="9" fill="#5e5e5e" text-anchor="middle">150</text>
<text x="593.8" y="503.1" font-size="9" fill="#5e5e5e" text-anchor="middle">71</text>
<text x="467" y="518.2" font-size="9" fill="#3f4d5e">HGP-3A-35-4BE</text>
<text x="559.9" y="518.2" font-size="9" fill="#3f4d5e" text-anchor="middle">154</text>
<text x="593.8" y="518.2" font-size="9" fill="#3f4d5e" text-anchor="middle">73</text>
<line x1="543.2" y1="287.7" x2="543.2" y2="522.5" stroke="#4f8fc9" stroke-width="1.4"/>
<line x1="576.6" y1="287.7" x2="576.6" y2="522.5" stroke="#4f8fc9" stroke-width="1.4"/>
<text x="501.6" y="303" font-size="9.2" font-weight="bold" fill="#1f3550" text-anchor="middle">Model</text>
<text x="559.9" y="303" font-size="9.2" font-weight="bold" fill="#1f3550" text-anchor="middle">A</text>
<text x="593.8" y="303" font-size="9.2" font-weight="bold" fill="#1f3550" text-anchor="middle">B</text>
<rect x="627.6" y="287.7" width="143.79999999999995" height="22.600000000000023" fill="#9ec7e7"/>
<line x1="627.6" y1="309.6" x2="771.4" y2="309.6" stroke="#5c9fd2" stroke-width="1.5"/>
<rect x="627.6" y="325.45714285714286" width="143.79999999999995" height="15.157142857142857" fill="#d7e5f3"/>
<rect x="627.6" y="355.7714285714286" width="143.79999999999995" height="15.157142857142857" fill="#d7e5f3"/>
<rect x="627.6" y="386.0857142857143" width="143.79999999999995" height="15.157142857142857" fill="#d7e5f3"/>
<rect x="627.6" y="416.4" width="143.79999999999995" height="15.157142857142857" fill="#d7e5f3"/>
<rect x="627.6" y="446.7142857142857" width="143.79999999999995" height="15.157142857142857" fill="#d7e5f3"/>
<rect x="627.6" y="477.02857142857147" width="143.79999999999995" height="15.157142857142857" fill="#d7e5f3"/>
<rect x="627.6" y="507.34285714285716" width="143.79999999999995" height="15.157142857142857" fill="#d7e5f3"/>
<text x="635" y="321.2" font-size="9" fill="#5e5e5e">HGP-3A-4-2B</text>
<text x="720.2" y="321.2" font-size="9" fill="#5e5e5e" text-anchor="middle">101</text>
<text x="754.5" y="321.2" font-size="9" fill="#5e5e5e" text-anchor="middle">48.5</text>
<text x="635" y="336.3" font-size="9" fill="#3f4d5e">HGP-3A-6-2B</text>
<text x="720.2" y="336.3" font-size="9" fill="#3f4d5e" text-anchor="middle">105</text>
<text x="754.5" y="336.3" font-size="9" fill="#3f4d5e" text-anchor="middle">50</text>
<text x="635" y="351.5" font-size="9" fill="#5e5e5e">HGP-3A-8-2B</text>
<text x="720.2" y="351.5" font-size="9" fill="#5e5e5e" text-anchor="middle">109</text>
<text x="754.5" y="351.5" font-size="9" fill="#5e5e5e" text-anchor="middle">51.5</text>
<text x="635" y="366.7" font-size="9" fill="#3f4d5e">HGP-3A-11-2B</text>
<text x="720.2" y="366.7" font-size="9" fill="#3f4d5e" text-anchor="middle">113</text>
<text x="754.5" y="366.7" font-size="9" fill="#3f4d5e" text-anchor="middle">54</text>
<text x="635" y="381.8" font-size="9" fill="#5e5e5e">HGP-3A-13-2B</text>
<text x="720.2" y="381.8" font-size="9" fill="#5e5e5e" text-anchor="middle">117</text>
<text x="754.5" y="381.8" font-size="9" fill="#5e5e5e" text-anchor="middle">56</text>
<text x="635" y="397.0" font-size="9" fill="#3f4d5e">HGP-3A-14-2B</text>
<text x="720.2" y="397.0" font-size="9" fill="#3f4d5e" text-anchor="middle">119</text>
<text x="754.5" y="397.0" font-size="9" fill="#3f4d5e" text-anchor="middle">57</text>
<text x="635" y="412.1" font-size="9" fill="#5e5e5e">HGP-3A-17-2B</text>
<text x="720.2" y="412.1" font-size="9" fill="#5e5e5e" text-anchor="middle">123</text>
<text x="754.5" y="412.1" font-size="9" fill="#5e5e5e" text-anchor="middle">59</text>
<text x="635" y="427.3" font-size="9" fill="#3f4d5e">HGP-3A-19-2B</text>
<text x="720.2" y="427.3" font-size="9" fill="#3f4d5e" text-anchor="middle">127</text>
<text x="754.5" y="427.3" font-size="9" fill="#3f4d5e" text-anchor="middle">61</text>
<text x="635" y="442.4" font-size="9" fill="#5e5e5e">HGP-3A-23-2B</text>
<text x="720.2" y="442.4" font-size="9" fill="#5e5e5e" text-anchor="middle">134</text>
<text x="754.5" y="442.4" font-size="9" fill="#5e5e5e" text-anchor="middle">65</text>
<text x="635" y="457.6" font-size="9" fill="#3f4d5e">HGP-3A-25-2B</text>
<text x="720.2" y="457.6" font-size="9" fill="#3f4d5e" text-anchor="middle">137</text>
<text x="754.5" y="457.6" font-size="9" fill="#3f4d5e" text-anchor="middle">66</text>
<text x="635" y="472.8" font-size="9" fill="#5e5e5e">HGP-3A-28-2B</text>
<text x="720.2" y="472.8" font-size="9" fill="#5e5e5e" text-anchor="middle">141</text>
<text x="754.5" y="472.8" font-size="9" fill="#5e5e5e" text-anchor="middle">68</text>
<text x="635" y="487.9" font-size="9" fill="#3f4d5e">HGP-3A-30-2B</text>
<text x="720.2" y="487.9" font-size="9" fill="#3f4d5e" text-anchor="middle">145</text>
<text x="754.5" y="487.9" font-size="9" fill="#3f4d5e" text-anchor="middle">70</text>
<text x="635" y="503.1" font-size="9" fill="#5e5e5e">HGP-3A-33-2B</text>
<text x="720.2" y="503.1" font-size="9" fill="#5e5e5e" text-anchor="middle">150</text>
<text x="754.5" y="503.1" font-size="9" fill="#5e5e5e" text-anchor="middle">73</text>
<text x="635" y="518.2" font-size="9" fill="#3f4d5e">HGP-3A-35-2B</text>
<text x="720.2" y="518.2" font-size="9" fill="#3f4d5e" text-anchor="middle">154</text>
<text x="754.5" y="518.2" font-size="9" fill="#3f4d5e" text-anchor="middle">75</text>
<line x1="702.9" y1="287.7" x2="702.9" y2="522.5" stroke="#4f8fc9" stroke-width="1.4"/>
<line x1="737.6" y1="287.7" x2="737.6" y2="522.5" stroke="#4f8fc9" stroke-width="1.4"/>
<text x="665.2" y="303" font-size="9.2" font-weight="bold" fill="#1f3550" text-anchor="middle">Model</text>
<text x="720.2" y="303" font-size="9.2" font-weight="bold" fill="#1f3550" text-anchor="middle">A</text>
<text x="754.5" y="303" font-size="9.2" font-weight="bold" fill="#1f3550" text-anchor="middle">B</text>
</svg></body></html>
